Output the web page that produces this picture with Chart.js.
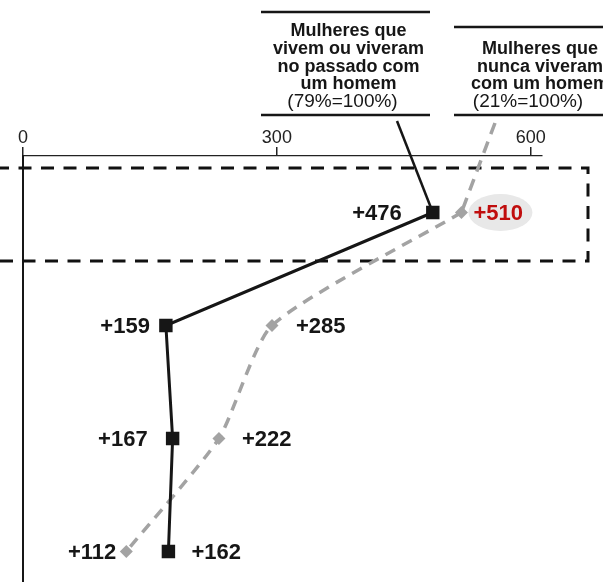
<!DOCTYPE html>
<html lang="pt">
<head>
<meta charset="utf-8">
<script src="https://cdn.jsdelivr.net/npm/chart.js@4.4.0/dist/chart.umd.min.js"></script>
<style>
  html, body { margin: 0; padding: 0; background: #fff; overflow: hidden; }
  canvas { display: block; }
</style>
</head>
<body>
<canvas id="grafico" width="603" height="620"></canvas>
<script>
// Dados do gráfico
const categorias = ['1', '2', '3', '4'];
const vivemOuViveram = [476, 159, 167, 162];
const nuncaViveram = [510, 285, 222, 112];
const valoresEixo = [0, 300, 600];

// Textos dos cabeçalhos
const cabecalhoVivem = ['Mulheres que', 'vivem ou viveram', 'no passado com', 'um homem'];
const notaVivem = '(79%=100%)';
const cabecalhoNunca = ['Mulheres que', 'nunca viveram', 'com um homem'];
const notaNunca = '(21%=100%)';

const FONTE = '"Liberation Sans", Arial, sans-serif';
const PRETO = '#161616';
const CINZA = '#a3a3a3';

// Deslocamento horizontal dos rótulos (negativo = à esquerda do ponto)
const deslocVivem = [-31, -16, -25, 23];
const deslocNunca = [12, 24, 23, -10];

// Desenha um cabeçalho com linhas em cima e embaixo
function desenharCabecalho(ctx, x1, x2, yTopo, linhas, nota, centro, desvioNota) {
    ctx.strokeStyle = PRETO;
    ctx.lineWidth = 2.5;
    ctx.setLineDash([]);
    ctx.beginPath();
    ctx.moveTo(x1, yTopo);
    ctx.lineTo(x2, yTopo);
    ctx.moveTo(x1, 115);
    ctx.lineTo(x2, 115);
    ctx.stroke();

    ctx.fillStyle = PRETO;
    ctx.textAlign = 'center';
    ctx.textBaseline = 'alphabetic';
    ctx.font = 'bold 18px ' + FONTE;
    const base = 107 - linhas.length * 17.7;
    linhas.forEach((t, i) => ctx.fillText(t, centro, base + i * 17.7));
    ctx.font = '19px ' + FONTE;
    ctx.fillText(nota, centro + desvioNota, 107);
}

const pluginDesenho = {
    id: 'desenho',
    beforeDatasetsDraw(chart) {
        const ctx = chart.ctx;
        const yTopo = chart.scales.y.getPixelForValue(0);
        ctx.save();

        // Caixa tracejada destacando a primeira linha
        ctx.strokeStyle = '#111';
        ctx.lineWidth = 3;
        ctx.setLineDash([13, 9.5]);
        ctx.beginPath();
        ctx.moveTo(-4, yTopo - 44.5);
        ctx.lineTo(588, yTopo - 44.5);
        ctx.lineTo(588, yTopo + 48.5);
        ctx.lineTo(-4, yTopo + 48.5);
        ctx.stroke();

        // Linhas ligando os cabeçalhos ao primeiro ponto
        const pv = chart.getDatasetMeta(0).data[0];
        const pn = chart.getDatasetMeta(1).data[0];
        ctx.setLineDash([]);
        ctx.strokeStyle = PRETO;
        ctx.lineWidth = 2.5;
        ctx.beginPath();
        ctx.moveTo(397, 121);
        ctx.lineTo(pv.x, pv.y);
        ctx.stroke();

        ctx.setLineDash([12, 8]);
        ctx.strokeStyle = CINZA;
        ctx.lineWidth = 3.5;
        ctx.beginPath();
        ctx.moveTo(495, 123);
        ctx.lineTo(pn.x, pn.y);
        ctx.stroke();
        ctx.restore();
    },
    afterDatasetsDraw(chart) {
        const ctx = chart.ctx;
        ctx.save();
        desenharCabecalho(ctx, 261, 430, 12, cabecalhoVivem, notaVivem, 348.5, -6);
        desenharCabecalho(ctx, 454, 640, 27, cabecalhoNunca, notaNunca, 540, -12);

        const pv = chart.getDatasetMeta(0).data;
        const pn = chart.getDatasetMeta(1).data;

        // Elipse cinza atrás do primeiro valor
        ctx.fillStyle = '#e8e8e8';
        ctx.beginPath();
        ctx.ellipse(pn[0].x + 39, pn[0].y, 32, 18.5, 0, 0, Math.PI * 2);
        ctx.fill();

        ctx.font = 'bold 22px ' + FONTE;
        ctx.textBaseline = 'middle';
        function rotulo(p, valor, dx, cor) {
            ctx.fillStyle = cor;
            ctx.textAlign = dx < 0 ? 'right' : 'left';
            ctx.fillText('+' + valor, p.x + dx, p.y + 1);
        }
        vivemOuViveram.forEach((v, i) => rotulo(pv[i], v, deslocVivem[i], PRETO));
        nuncaViveram.forEach((v, i) => rotulo(pn[i], v, deslocNunca[i], i === 0 ? '#c00d0d' : PRETO));
        ctx.restore();
    }
};

// Inicializa o gráfico
const ctxGrafico = document.getElementById('grafico').getContext('2d');
const grafico = new Chart(ctxGrafico, {
    type: 'line',
    data: {
        labels: categorias,
        datasets: [{
            label: 'Mulheres que vivem ou viveram no passado com um homem',
            data: vivemOuViveram,
            xAxisID: 'xd',
            borderColor: PRETO,
            borderWidth: 3,
            pointStyle: 'rect',
            pointRadius: 9.5,
            pointBackgroundColor: PRETO,
            pointBorderWidth: 0,
            tension: 0
        }, {
            label: 'Mulheres que nunca viveram com um homem',
            data: nuncaViveram,
            xAxisID: 'xd',
            borderColor: CINZA,
            borderWidth: 3.5,
            borderDash: [11, 8],
            pointStyle: 'rectRot',
            pointRadius: 6.5,
            pointBackgroundColor: CINZA,
            pointBorderWidth: 0,
            tension: 0.2
        }]
    },
    options: {
        responsive: false,
        animation: false,
        indexAxis: 'y',
        layout: { padding: { left: 23, right: 61.5, top: 0, bottom: 12 } },
        plugins: {
            legend: { display: false },
            tooltip: { enabled: false }
        },
        scales: {
            x: {
                type: 'linear',
                position: 'top',
                min: 0,
                max: 612.7,
                afterBuildTicks: s => { s.ticks = valoresEixo.map(v => ({ value: v })); },
                afterFit: s => { s.height = 156; },
                grid: { drawOnChartArea: false, tickLength: 9, color: '#222', lineWidth: 1.5 },
                border: { display: true, color: '#222', width: 1.3 },
                ticks: { font: { family: FONTE, size: 18 }, color: '#222', padding: -2, maxRotation: 0 }
            },
            xd: {
                type: 'linear',
                display: false,
                min: -10.7,
                max: 605.1
            },
            y: {
                type: 'category',
                offset: true,
                afterFit: s => { s.width = 0; },
                grid: { display: false },
                ticks: { display: false },
                border: { display: true, color: PRETO, width: 2 }
            }
        }
    },
    plugins: [pluginDesenho]
});
</script>
</body>
</html>
